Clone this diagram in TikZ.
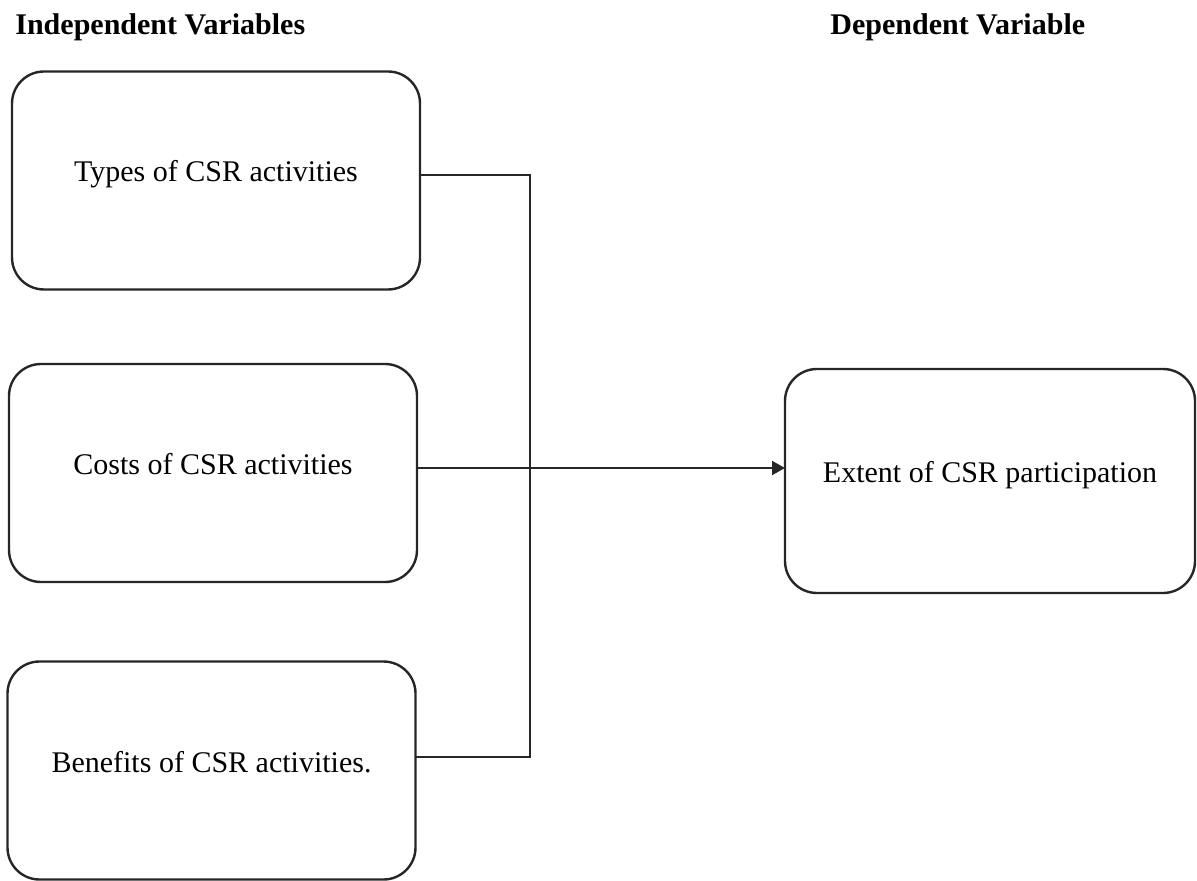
\documentclass[tikz,border=0pt]{standalone}
\usepackage{fontspec}
\setmainfont{Liberation Serif}
\usetikzlibrary{arrows.meta}
\tikzset{
  varbox/.style={draw=black!85, line width=1.2pt, rounded corners=16pt, minimum width=204pt, minimum height=109pt, inner sep=0pt, outer sep=0pt, text height=10.5pt, text depth=9pt, font=\fontsize{15}{18}\selectfont},
  varhead/.style={anchor=base west, inner sep=0pt, font=\fontsize{15}{18}\selectfont\bfseries},
  link/.style={draw=black!85, line width=1pt},
}
\begin{document}
\begin{tikzpicture}[x=0.5pt, y=-0.5pt]
\useasboundingbox (0,0) rectangle (1197,881);
\node[varhead] (indep) at (15,35) {Independent Variables};
\node[varhead] (dep) at (830,35) {Dependent Variable};
\node[varbox] (types) at (216,180.5) {Types of CSR activities};
\node[varbox] (costs) at (213,473) {Costs of CSR activities};
\node[varbox] (benefits) at (211.5,770.5) {Benefits of CSR activities.};
\node[varbox, minimum width=205pt, minimum height=112pt] (extent) at (990,481) {Extent of CSR participation};
\coordinate (jtop) at (530,175);
\coordinate (jmid) at (530,468);
\coordinate (jbot) at (530,757);
\draw[link] (types.east |- jtop) -- (jtop) -- (jbot) -- (benefits.east |- jbot);
\draw[link, -{Triangle[length=6.5pt, width=7pt]}] (costs.east |- jmid) -- (extent.west |- jmid);
\end{tikzpicture}
\end{document}
